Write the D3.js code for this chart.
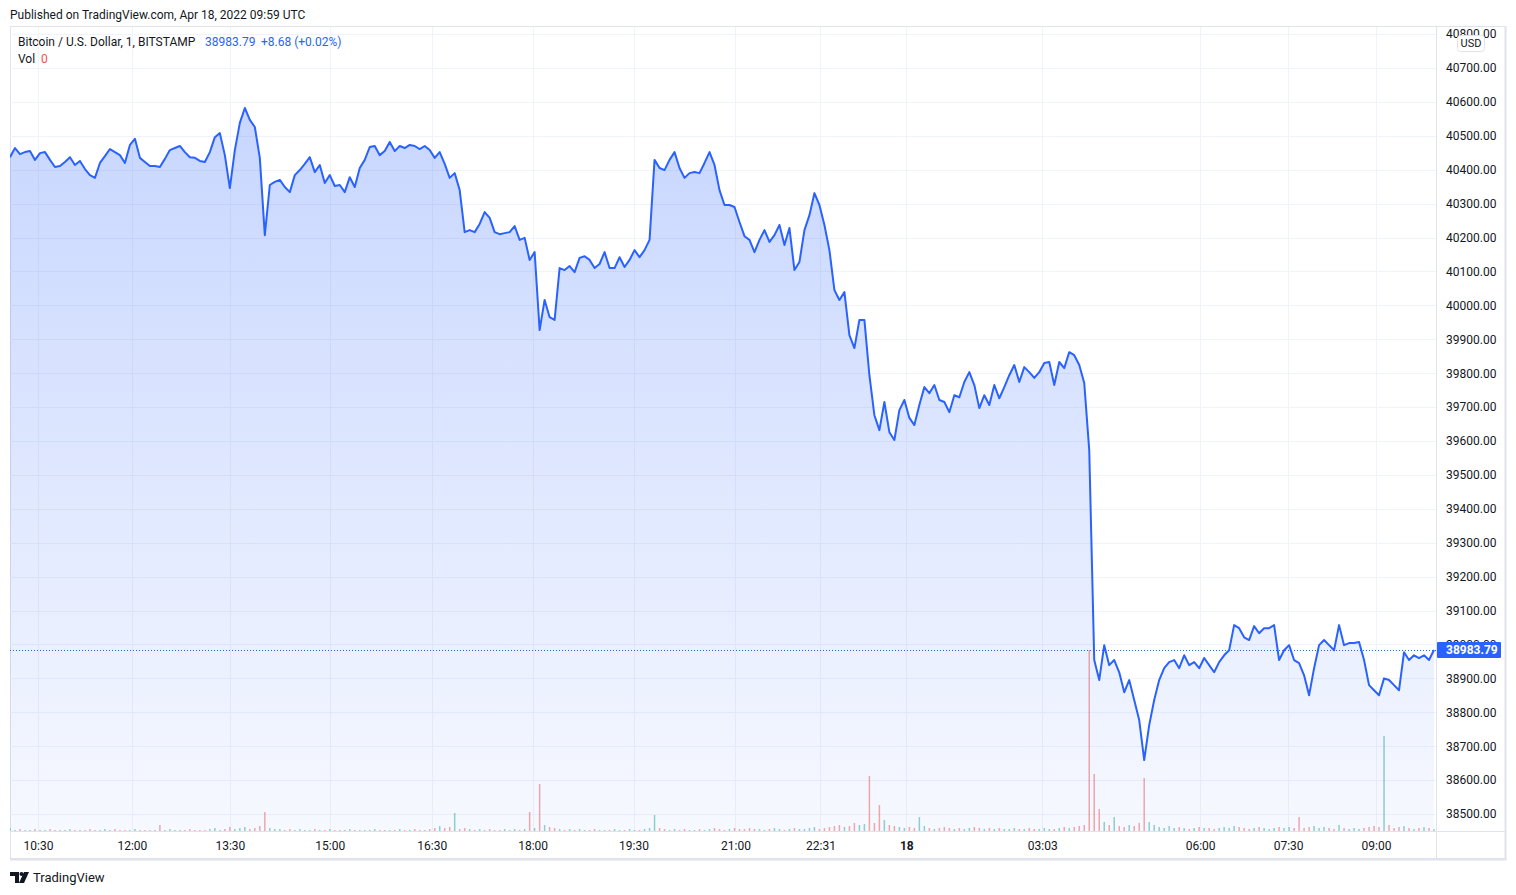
<!DOCTYPE html>
<html>
<head>
<meta charset="utf-8">
<script src="https://cdn.jsdelivr.net/npm/d3@7"></script>
<style>
  body { margin: 0; background: #fff; }
  svg { display: block; font-family: Roboto, "Noto Sans", sans-serif; }
</style>
</head>
<body>
<svg id="chart"></svg>
<script>
// BTC/USD 1-minute closes, Bitstamp, sampled along the chart
const prices = [
  40437, 40464, 40446, 40452, 40455, 40429, 40449, 40452, 40429, 40408,
  40411, 40423, 40437, 40414, 40426, 40402, 40384, 40376, 40420, 40440,
  40461, 40452, 40443, 40420, 40473, 40491, 40435, 40423, 40411, 40411,
  40408, 40432, 40458, 40464, 40470, 40452, 40437, 40435, 40426, 40423,
  40452, 40496, 40508, 40443, 40346, 40458, 40538, 40582, 40547, 40526,
  40435, 40207, 40355, 40364, 40370, 40349, 40334, 40384, 40399, 40417,
  40437, 40393, 40414, 40361, 40384, 40352, 40355, 40334, 40378, 40349,
  40405, 40429, 40467, 40470, 40443, 40455, 40482, 40455, 40470, 40464,
  40473, 40470, 40461, 40470, 40458, 40435, 40452, 40417, 40376, 40390,
  40340, 40216, 40222, 40216, 40240, 40275, 40258, 40216, 40210, 40213,
  40216, 40234, 40193, 40199, 40134, 40157, 39927, 40016, 39965, 39957,
  40110, 40104, 40116, 40098, 40140, 40145, 40134, 40110, 40122, 40157,
  40110, 40110, 40142, 40113, 40134, 40163, 40142, 40163, 40193, 40429,
  40405, 40399, 40429, 40452, 40405, 40376, 40390, 40393, 40390, 40420,
  40452, 40414, 40340, 40296, 40296, 40290, 40246, 40204, 40193, 40157,
  40193, 40222, 40187, 40207, 40237, 40178, 40228, 40104, 40128, 40222,
  40266, 40331, 40296, 40237, 40163, 40045, 40016, 40039, 39912, 39874,
  39957, 39957, 39794, 39676, 39632, 39715, 39626, 39603, 39691, 39721,
  39668, 39647, 39706, 39759, 39741, 39765, 39721, 39715, 39685, 39735,
  39729, 39774, 39803, 39765, 39697, 39735, 39706, 39765, 39726, 39759,
  39794, 39824, 39774, 39818, 39803, 39786, 39803, 39830, 39833, 39765,
  39833, 39815, 39862, 39853, 39824, 39771, 39573, 38954, 38895, 38998,
  38939, 38954, 38918, 38859, 38895, 38836, 38777, 38659, 38762, 38836,
  38895, 38930, 38948, 38954, 38930, 38968, 38939, 38948, 38930, 38960,
  38939, 38918, 38948, 38968, 38983, 39057, 39048, 39021, 39013, 39054,
  39033, 39048, 39048, 39057, 38954, 38983, 38998, 38954, 38945, 38909,
  38850, 38930, 38998, 39013, 38998, 38983, 39057, 38998, 39004, 39004,
  39007, 38954, 38880, 38865, 38850, 38900, 38895, 38880, 38865, 38977,
  38954, 38968, 38960, 38968, 38954, 38983.79
];

const volumes = [
  3, 1, 2, 1, 1, 2, 1, 1, 2, 1, 1, 1, 2, 1, 1, 1, 2, 1, 1, 2,
  1, 2, 1, 1, 1, 2, 1, 1, 1, 1, 6, 1, 2, 1, 1, 1, 2, 1, 1, 1,
  2, 3, 1, 2, 4, 2, 3, 4, 2, 3, 5, 19, 3, 2, 2, 1, 2, 1, 2, 1,
  1, 2, 1, 1, 2, 1, 1, 1, 2, 1, 1, 1, 1, 2, 1, 1, 1, 1, 2, 1,
  1, 2, 1, 1, 2, 3, 5, 3, 4, 18, 2, 3, 2, 1, 2, 1, 2, 1, 1, 2,
  1, 2, 1, 2, 19, 3, 47, 6, 4, 3, 2, 1, 2, 1, 2, 1, 1, 2, 1, 1,
  1, 2, 1, 1, 2, 1, 1, 2, 3, 16, 3, 2, 1, 2, 1, 2, 1, 1, 2, 1,
  2, 3, 2, 1, 2, 3, 2, 2, 3, 2, 2, 1, 2, 3, 2, 1, 2, 3, 2, 2,
  3, 4, 2, 3, 4, 5, 6, 4, 5, 8, 6, 7, 55, 8, 26, 11, 6, 5, 4, 3,
  4, 3, 14, 5, 3, 2, 3, 4, 3, 2, 3, 2, 3, 4, 3, 2, 3, 2, 3, 2,
  2, 3, 2, 2, 3, 2, 2, 3, 2, 2, 3, 4, 3, 4, 5, 6, 181, 57, 22, 9,
  6, 14, 5, 4, 6, 5, 8, 53, 9, 6, 4, 3, 5, 3, 4, 3, 2, 3, 4, 3,
  3, 2, 3, 4, 3, 5, 4, 3, 2, 3, 4, 3, 2, 3, 4, 3, 4, 3, 14, 3,
  4, 5, 3, 4, 3, 2, 6, 3, 2, 3, 2, 3, 4, 5, 4, 95, 6, 3, 4, 5,
  3, 2, 3, 4, 3, 2
];

const priceTicks = [38500, 38600, 38700, 38800, 38900, 39000, 39100, 39200, 39300, 39400, 39500,
  39600, 39700, 39800, 39900, 40000, 40100, 40200, 40300, 40400, 40500, 40600, 40700, 40800];
const timeLabels = ["10:30", "12:00", "13:30", "15:00", "16:30", "18:00", "19:30", "21:00", "22:31", "18", "03:03", "06:00", "07:30", "09:00"];
const timeIndex = [5.6, 24.4, 44, 64, 84.4, 104.6, 124.8, 145.2, 162.2, 179.4, 206.6, 238.2, 255.8, 273.4];

const lastPrice = 38983.79;
const change = "+8.68 (+0.02%)";

function renderChart() {
    const W = 1516, H = 895;
    const pane = { left: 10, right: 1436, top: 27, bottom: 831 };
    const frame = { right: 1506, bottom: 859 };
    const blue = "#2962ff";
    const textColor = "#131722";
    const gridColor = "#f0f3fa";
    const borderColor = "#e0e3eb";

    const svg = d3.select("#chart").attr("width", W).attr("height", H);

    const x = d3.scaleLinear().domain([0, prices.length - 1]).range([10, 1434]);
    const y = d3.scaleLinear().domain([38500, 40700]).range([814, 68]);
    const yVol = d3.scaleLinear().domain([0, 200]).range([pane.bottom, pane.bottom - 200]);

    const defs = svg.append("defs");
    defs.append("clipPath").attr("id", "paneClip")
        .append("rect")
        .attr("x", pane.left).attr("y", pane.top)
        .attr("width", pane.right - pane.left).attr("height", pane.bottom - pane.top);

    const grad = defs.append("linearGradient")
        .attr("id", "areaFill")
        .attr("gradientUnits", "userSpaceOnUse")
        .attr("x1", 0).attr("x2", 0)
        .attr("y1", y(d3.max(prices))).attr("y2", pane.bottom);
    grad.append("stop").attr("offset", 0).attr("stop-color", blue).attr("stop-opacity", 0.26);
    grad.append("stop").attr("offset", 1).attr("stop-color", blue).attr("stop-opacity", 0.04);

    // header
    svg.append("text")
        .attr("x", 10).attr("y", 15).attr("dy", "0.35em")
        .attr("font-size", 12).attr("fill", textColor)
        .text("Published on TradingView.com, Apr 18, 2022 09:59 UTC");

    // frame
    svg.append("rect")
        .attr("x", 10.5).attr("y", 26.5)
        .attr("width", frame.right - 11).attr("height", frame.bottom - 27)
        .attr("fill", "none").attr("stroke", borderColor).attr("stroke-width", 1);
    svg.append("line")
        .attr("x1", frame.right - 0.5).attr("x2", frame.right - 0.5)
        .attr("y1", 26).attr("y2", frame.bottom + 1)
        .attr("stroke", borderColor).attr("stroke-width", 2);
    svg.append("line")
        .attr("x1", 10).attr("x2", frame.right + 0.5)
        .attr("y1", frame.bottom + 0.5).attr("y2", frame.bottom + 0.5)
        .attr("stroke", borderColor).attr("stroke-width", 2);

    const plot = svg.append("g").attr("clip-path", "url(#paneClip)");

    // grid
    plot.selectAll(".hgrid")
        .data(priceTicks)
        .enter()
        .append("line")
        .attr("class", "hgrid")
        .attr("x1", pane.left).attr("x2", pane.right)
        .attr("y1", d => Math.round(y(d)) + 0.5).attr("y2", d => Math.round(y(d)) + 0.5)
        .attr("stroke", gridColor);

    plot.selectAll(".vgrid")
        .data(timeIndex)
        .enter()
        .append("line")
        .attr("class", "vgrid")
        .attr("x1", d => Math.round(x(d)) + 0.5).attr("x2", d => Math.round(x(d)) + 0.5)
        .attr("y1", pane.top).attr("y2", pane.bottom)
        .attr("stroke", gridColor);

    // volume
    plot.selectAll(".vol")
        .data(volumes)
        .enter()
        .append("rect")
        .attr("class", "vol")
        .attr("x", (d, i) => x(i) - 0.75)
        .attr("width", 1.5)
        .attr("y", d => yVol(d))
        .attr("height", d => pane.bottom - yVol(d))
        .attr("fill", (d, i) => (i === 0 || prices[i] >= prices[i - 1])
            ? "rgba(38,166,154,0.5)" : "rgba(239,83,80,0.5)");

    // area + line
    const area = d3.area()
        .x((d, i) => x(i))
        .y0(pane.bottom)
        .y1(d => y(d));

    const line = d3.line()
        .x((d, i) => x(i))
        .y(d => y(d));

    plot.append("path")
        .datum(prices)
        .attr("fill", "url(#areaFill)")
        .attr("d", area);

    plot.append("path")
        .datum(prices)
        .attr("fill", "none")
        .attr("stroke", blue)
        .attr("stroke-width", 2)
        .attr("stroke-linejoin", "round")
        .attr("d", line);

    // last price dotted line
    plot.append("line")
        .attr("x1", pane.left).attr("x2", pane.right)
        .attr("y1", Math.round(y(lastPrice)) + 0.5).attr("y2", Math.round(y(lastPrice)) + 0.5)
        .attr("stroke", blue).attr("stroke-dasharray", "1,2");

    // axis separators
    svg.append("line")
        .attr("x1", pane.right + 0.5).attr("x2", pane.right + 0.5)
        .attr("y1", pane.top).attr("y2", frame.bottom)
        .attr("stroke", borderColor);
    svg.append("line")
        .attr("x1", pane.left).attr("x2", frame.right)
        .attr("y1", pane.bottom + 0.5).attr("y2", pane.bottom + 0.5)
        .attr("stroke", borderColor);

    // price axis
    const yAxis = svg.append("g")
        .attr("transform", `translate(${pane.right},0)`)
        .call(d3.axisRight(y).tickValues(priceTicks).tickFormat(d3.format(".2f")).tickSize(0).tickPadding(10));
    yAxis.select(".domain").remove();
    yAxis.selectAll("text")
        .attr("font-size", 12)
        .attr("font-family", "Roboto, sans-serif")
        .attr("fill", textColor);

    // time axis
    const xAxis = svg.append("g")
        .attr("transform", `translate(0,${pane.bottom})`)
        .call(d3.axisBottom(x).tickValues(timeIndex).tickFormat((d, i) => timeLabels[i]).tickSize(0).tickPadding(10));
    xAxis.select(".domain").remove();
    xAxis.selectAll("text")
        .attr("font-size", 12)
        .attr("font-family", "Roboto, sans-serif")
        .attr("fill", textColor)
        .attr("font-weight", (d, i) => timeLabels[i] === "18" ? "bold" : "normal");

    // USD badge
    svg.append("rect")
        .attr("x", 1457.5).attr("y", 35.5)
        .attr("width", 27).attr("height", 16).attr("rx", 3)
        .attr("fill", "#fff").attr("stroke", borderColor);
    svg.append("text")
        .attr("x", 1471).attr("y", 43.5).attr("dy", "0.35em")
        .attr("text-anchor", "middle")
        .attr("font-size", 11).attr("fill", textColor)
        .text("USD");

    // last price label
    const ly = y(lastPrice);
    svg.append("rect")
        .attr("x", pane.right + 1).attr("y", ly - 8)
        .attr("width", 64).attr("height", 16).attr("rx", 1)
        .attr("fill", blue);
    svg.append("text")
        .attr("x", pane.right + 10).attr("y", ly).attr("dy", "0.35em")
        .attr("font-size", 12).attr("font-weight", "bold").attr("fill", "#fff")
        .text(d3.format(".2f")(lastPrice));

    // legend
    const legend = svg.append("g").attr("font-size", 12);
    legend.append("text").attr("x", 18).attr("y", 42).attr("dy", "0.35em")
        .attr("fill", textColor).text("Bitcoin / U.S. Dollar, 1, BITSTAMP");
    legend.append("text").attr("x", 205).attr("y", 42).attr("dy", "0.35em")
        .attr("fill", blue).text(d3.format(".2f")(lastPrice));
    legend.append("text").attr("x", 261).attr("y", 42).attr("dy", "0.35em")
        .attr("fill", blue).text(change);
    legend.append("text").attr("x", 18).attr("y", 59).attr("dy", "0.35em")
        .attr("fill", textColor).text("Vol");
    legend.append("text").attr("x", 41).attr("y", 59).attr("dy", "0.35em")
        .attr("fill", "#ef5350").text("0");

    // footer logo
    const logo = svg.append("g").attr("fill", textColor);
    logo.append("path").attr("d", "M10 872 H19 V883 H15 V876 H10 Z");
    logo.append("circle").attr("cx", 21.5).attr("cy", 874).attr("r", 2);
    logo.append("path").attr("d", "M24 872 H29 L24 883 H19 Z");
    svg.append("text")
        .attr("x", 33).attr("y", 877).attr("dy", "0.35em")
        .attr("font-size", 13).attr("fill", textColor)
        .text("TradingView");
}

renderChart();
</script>
</body>
</html>
